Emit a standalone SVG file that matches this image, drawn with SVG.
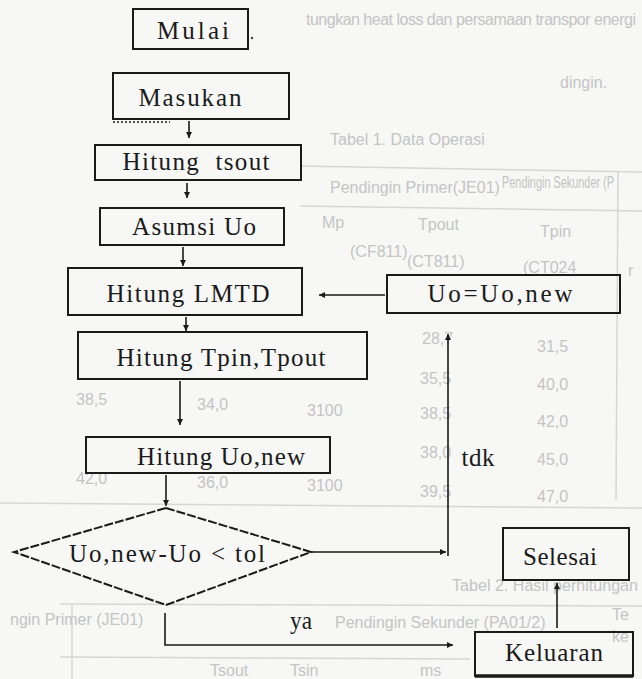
<svg xmlns="http://www.w3.org/2000/svg" width="642" height="679" viewBox="0 0 642 679">
<style>
.bg{fill:#c4c4c4;font-family:"Liberation Sans",Arial,sans-serif;font-size:16px}
.bgl{stroke:#d6d6d6;stroke-width:1.5;fill:none}
.box{fill:none;stroke:#1a1a1a;stroke-width:2}
.lbl{fill:#1a1a1a;font-family:"Liberation Serif","Times New Roman",serif;font-size:25px;text-anchor:middle}
.con{stroke:#1a1a1a;stroke-width:1.6;fill:none}
</style>
<defs>
<marker id="ah" viewBox="0 0 10 10" refX="10" refY="5" markerWidth="6" markerHeight="6" markerUnits="userSpaceOnUse" orient="auto">
<path d="M0,0 L10,5 L0,10 Z" fill="#1a1a1a"/>
</marker>
</defs>
<rect width="642" height="679" fill="#f7f7f6"/>
<g id="background">
<text class="bg" x="306" y="25" font-size="16" textLength="330" lengthAdjust="spacing">tungkan heat loss dan persamaan transpor energi</text>
<text class="bg" x="560" y="88" font-size="17">dingin.</text>
<text class="bg" x="330" y="145" font-size="21">Tabel 1.  Data Operasi</text>
<path class="bgl" d="M300,166 L642,172"/>
<path class="bgl" d="M300,206 L642,211"/>
<path class="bgl" d="M618,172 L616,500"/>
<path class="bgl" d="M0,503 L642,508"/>
<path class="bgl" d="M60,604 L642,606"/>
<path class="bgl" d="M60,657 L470,659"/>
<path class="bgl" d="M72,605 L72,679"/>
<text class="bg" x="330" y="193" font-size="15">Pendingin Primer(JE01)</text>
<text class="bg" x="502" y="188" font-size="13" textLength="112" lengthAdjust="spacingAndGlyphs">Pendingin Sekunder (P</text>
<text class="bg" x="322" y="228">Mp</text>
<text class="bg" x="418" y="230">Tpout</text>
<text class="bg" x="540" y="237">Tpin</text>
<text class="bg" x="350" y="257">(CF811)</text>
<text class="bg" x="407" y="267">(CT811)</text>
<text class="bg" x="523" y="273">(CT024</text>
<text class="bg" x="628" y="276">r</text>
<text class="bg" x="537" y="352">31,5</text>
<text class="bg" x="422" y="344">28,7</text>
<text class="bg" x="537" y="390">40,0</text>
<text class="bg" x="420" y="384">35,5</text>
<text class="bg" x="537" y="427">42,0</text>
<text class="bg" x="420" y="419">38,5</text>
<text class="bg" x="307" y="416">3100</text>
<text class="bg" x="197" y="410">34,0</text>
<text class="bg" x="76" y="405">38,5</text>
<text class="bg" x="537" y="465">45,0</text>
<text class="bg" x="420" y="458">38,0</text>
<text class="bg" x="537" y="502">47,0</text>
<text class="bg" x="420" y="497">39,5</text>
<text class="bg" x="307" y="491">3100</text>
<text class="bg" x="197" y="488">36,0</text>
<text class="bg" x="76" y="484">42,0</text>
<text class="bg" x="452" y="591" font-size="18" textLength="186" lengthAdjust="spacingAndGlyphs">Tabel 2.  Hasil perhitungan</text>
<text class="bg" x="335" y="628">Pendingin Sekunder (PA01/2)</text>
<text class="bg" x="10" y="625">ngin Primer (JE01)</text>
<text class="bg" x="612" y="620">Te</text>
<text class="bg" x="612" y="642">ke</text>
<text class="bg" x="210" y="676">Tsout</text>
<text class="bg" x="290" y="676">Tsin</text>
<text class="bg" x="420" y="676">ms</text>
</g>
<g id="connectors">
<path class="con" d="M113,122 L170,122" stroke-dasharray="2 2"/>
<path class="con" d="M189,121 L189,138" marker-end="url(#ah)"/>
<path class="con" d="M187,183 L187,198" marker-end="url(#ah)"/>
<path class="con" d="M183,247 L183,266" marker-end="url(#ah)"/>
<path class="con" d="M385,295 L319,295" marker-end="url(#ah)"/>
<path class="con" d="M186,317 L186,331" marker-end="url(#ah)"/>
<path class="con" d="M180,381 L180,425" marker-end="url(#ah)"/>
<path class="con" d="M166,475 L166,506" marker-end="url(#ah)"/>
<path class="con" d="M311,552 L446,552" marker-end="url(#ah)"/>
<path class="con" d="M448,556 L448,334" marker-end="url(#ah)"/>
<path class="con" d="M165,613 L165,645 L453,645" marker-end="url(#ah)"/>
<path class="con" d="M557,628 L557,583" marker-end="url(#ah)"/>
<text class="lbl" x="478" y="466" textLength="33" lengthAdjust="spacing">tdk</text>
<text class="lbl" x="301" y="629" font-size="24" textLength="22" lengthAdjust="spacingAndGlyphs">ya</text>
</g>
<g id="mulai">
<rect class="box" x="133" y="9" width="115" height="40"/>
<text class="lbl" x="193" y="39" font-size="26" textLength="72" lengthAdjust="spacing">Mulai</text>
<circle cx="252" cy="38" r="1.2" fill="#444"/>
</g>
<g id="masukan">
<rect class="box" x="113" y="73" width="176" height="46"/>
<text class="lbl" x="190" y="106" textLength="103" lengthAdjust="spacing">Masukan</text>
</g>
<g id="hitung-tsout">
<rect class="box" x="95" y="145" width="206" height="35"/>
<text class="lbl" x="196" y="170" textLength="147" lengthAdjust="spacing" xml:space="preserve">Hitung  tsout</text>
</g>
<g id="asumsi-uo">
<rect class="box" x="100" y="208" width="184" height="37"/>
<text class="lbl" x="194" y="235" textLength="124" lengthAdjust="spacing">Asumsi Uo</text>
</g>
<g id="hitung-lmtd">
<rect class="box" x="68" y="268" width="234" height="47"/>
<text class="lbl" x="188" y="302" textLength="163" lengthAdjust="spacing">Hitung LMTD</text>
</g>
<g id="uo-update">
<rect class="box" x="387" y="275" width="233" height="38"/>
<text class="lbl" x="500" y="302" textLength="145" lengthAdjust="spacing">Uo=Uo,new</text>
</g>
<g id="hitung-tpin-tpout">
<rect class="box" x="78" y="332" width="289" height="47"/>
<text class="lbl" x="221" y="366" textLength="209" lengthAdjust="spacing">Hitung Tpin,Tpout</text>
</g>
<g id="hitung-uo-new">
<rect class="box" x="86" y="437" width="244" height="36"/>
<text class="lbl" x="221" y="465" textLength="168" lengthAdjust="spacing">Hitung Uo,new</text>
</g>
<g id="cek-toleransi">
<path class="box" d="M166,508 L311,552 L166,605 L14,552 Z" stroke-dasharray="9 2"/>
<text class="lbl" x="167" y="562" textLength="196" lengthAdjust="spacing">Uo,new-Uo &lt; tol</text>
</g>
<g id="selesai">
<rect class="box" x="503" y="528" width="126" height="52"/>
<text class="lbl" x="560" y="565" textLength="74" lengthAdjust="spacing">Selesai</text>
</g>
<g id="keluaran">
<rect class="box" x="475" y="632" width="158" height="44"/>
<path d="M475,676 L633,676" stroke="#1a1a1a" stroke-width="3.5"/>
<text class="lbl" x="554" y="661" textLength="98" lengthAdjust="spacing">Keluaran</text>
</g>
</svg>
